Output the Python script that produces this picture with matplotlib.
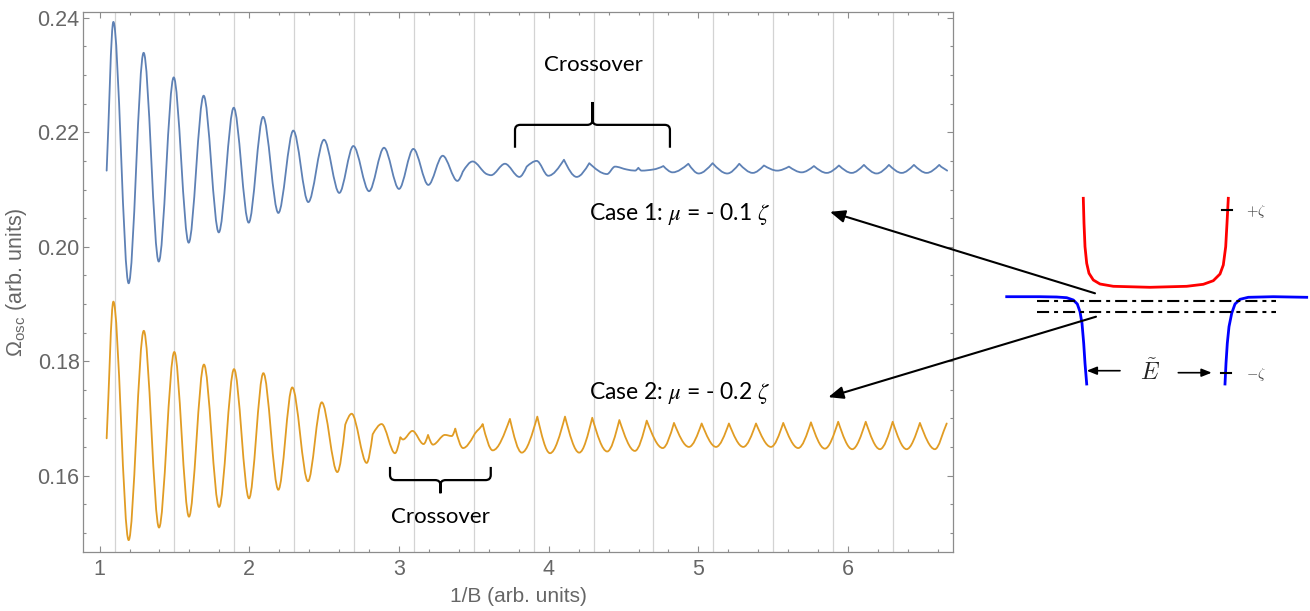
import numpy as np
import matplotlib
matplotlib.use("Agg")
import matplotlib.pyplot as plt
from matplotlib.path import Path
from matplotlib.patches import PathPatch

# ---------------- data ----------------
# Case 1 (mu = -0.1 zeta): extrema / kinks of the oscillating curve
blue_x = [1.047, 1.092, 1.194, 1.294, 1.395, 1.495, 1.595, 1.695, 1.796, 1.896,
          1.996, 2.092, 2.194, 2.294, 2.394, 2.499, 2.601, 2.695, 2.800, 2.900,
          3.000, 3.096, 3.196, 3.292, 3.390, 3.426, 3.492, 3.586, 3.615, 3.708,
          3.804, 3.853, 3.920, 3.997, 4.102, 4.187, 4.271, 4.390, 4.443, 4.521,
          4.577, 4.599, 4.621, 4.699, 4.766, 4.828, 4.933, 5.002, 5.095, 5.193,
          5.273, 5.363, 5.438, 5.527, 5.605, 5.690, 5.772, 5.857, 5.939, 6.024,
          6.106, 6.191, 6.273, 6.358, 6.440, 6.525, 6.609, 6.662]
blue_y = [0.2133, 0.2393, 0.1936, 0.2339, 0.1974, 0.2296, 0.2007, 0.2264, 0.2025, 0.2243,
          0.2042, 0.2227, 0.2059, 0.2203, 0.2078, 0.2187, 0.2094, 0.2176, 0.2097, 0.2173,
          0.2101, 0.2171, 0.2108, 0.2159, 0.2115, 0.2131, 0.2149, 0.2127, 0.2125, 0.2145,
          0.2122, 0.2140, 0.2150, 0.2124, 0.2152, 0.2122, 0.2146, 0.2127, 0.2140, 0.2135,
          0.2133, 0.2138, 0.2133, 0.2135, 0.2141, 0.2130, 0.2145, 0.2128, 0.2146, 0.2128,
          0.2145, 0.2129, 0.2142, 0.2133, 0.2140, 0.2130, 0.2141, 0.2129, 0.2142, 0.2129,
          0.2143, 0.2128, 0.2143, 0.2129, 0.2143, 0.2129, 0.2143, 0.2133]
blue_sharp = [0, 0, 0, 0, 0, 0, 0, 0, 0, 0,
              0, 0, 0, 0, 0, 0, 0, 0, 0, 0,
              0, 0, 0, 0, 0, 1, 0, 0, 0, 0,
              0, 1, 0, 0, 1, 0, 1, 0, 0, 0,
              0, 1, 0, 0, 1, 0, 1, 0, 1, 0,
              1, 0, 1, 0, 1, 0, 1, 0, 1, 0,
              1, 0, 1, 0, 1, 0, 1, 0]

# Case 2 (mu = -0.2 zeta)
orange_x = [1.047, 1.092, 1.194, 1.295, 1.397, 1.499, 1.597, 1.697, 1.798, 1.898,
            1.998, 2.094, 2.194, 2.287, 2.392, 2.484, 2.588, 2.641, 2.684, 2.784,
            2.824, 2.884, 2.973, 3.009, 3.027, 3.090, 3.164, 3.194, 3.227, 3.307,
            3.352, 3.376, 3.428, 3.500, 3.559, 3.626, 3.741, 3.820, 3.924, 4.009,
            4.109, 4.204, 4.291, 4.391, 4.472, 4.576, 4.655, 4.762, 4.837, 4.937,
            5.022, 5.118, 5.204, 5.300, 5.385, 5.485, 5.567, 5.667, 5.752, 5.845,
            5.934, 6.028, 6.118, 6.213, 6.298, 6.391, 6.480, 6.580, 6.659]
orange_y = [0.1665, 0.1904, 0.1487, 0.1853, 0.1509, 0.1816, 0.1528, 0.1794, 0.1545, 0.1786,
            0.1560, 0.1779, 0.1575, 0.1754, 0.1590, 0.1728, 0.1606, 0.1689, 0.1708, 0.1622,
            0.1672, 0.1690, 0.1639, 0.1667, 0.1663, 0.1678, 0.1655, 0.1671, 0.1654, 0.1671,
            0.1669, 0.1682, 0.1648, 0.1670, 0.1690, 0.1644, 0.1699, 0.1640, 0.1703, 0.1639,
            0.1703, 0.1640, 0.1701, 0.1642, 0.1697, 0.1643, 0.1696, 0.1648, 0.1692, 0.1650,
            0.1691, 0.1650, 0.1691, 0.1650, 0.1691, 0.1650, 0.1692, 0.1648, 0.1693, 0.1647,
            0.1694, 0.1646, 0.1694, 0.1646, 0.1694, 0.1646, 0.1692, 0.1646, 0.1691]
orange_sharp = [0, 0, 0, 0, 0, 0, 0, 0, 0, 0,
                0, 0, 0, 0, 0, 0, 0, 1, 0, 0,
                1, 0, 0, 1, 0, 0, 0, 1, 0, 0,
                0, 1, 0, 1, 1, 0, 1, 0, 1, 0,
                1, 0, 1, 0, 1, 0, 1, 0, 1, 0,
                1, 0, 1, 0, 1, 0, 1, 0, 1, 0,
                1, 0, 1, 0, 1, 0, 1, 0, 0]

grid_x = [1.1, 1.5, 1.9, 2.3, 2.7, 3.1, 3.5, 3.9, 4.3, 4.7, 5.1, 5.5, 5.9, 6.3]
x_ticks = [1, 2, 3, 4, 5, 6]
x_tick_labels = ["1", "2", "3", "4", "5", "6"]
y_ticks = [0.16, 0.18, 0.20, 0.22, 0.24]
y_tick_labels = ["0.16", "0.18", "0.20", "0.22", "0.24"]

x_label = "1/B (arb. units)"
y_label = r"$\mathregular{\Omega_{osc}}$ (arb. units)"
crossover_text = "Crossover"
case1_text = r"Case 1: $\mu$ = - 0.1 $\zeta$"
case2_text = r"Case 2: $\mu$ = - 0.2 $\zeta$"

# crossover braces: (x_left, x_right, y_ends, y_bar, y_tip)
brace1 = (3.775, 4.810, 0.2173, 0.2213, 0.2253)
brace2 = (2.940, 3.613, 0.1615, 0.1592, 0.1569)

# schematic (band diagram) in its own pixel-like coordinates
red_x = [1083.3, 1084.0, 1085.0, 1086.7, 1089.0, 1093.3, 1100.0, 1113.3, 1150.0,
         1186.7, 1203.3, 1213.3, 1220.0, 1223.3, 1225.7, 1227.0, 1228.3]
red_y = [198.3, 223.3, 246.7, 263.3, 273.3, 280.0, 284.0, 286.3, 287.3,
         286.3, 284.3, 280.7, 274.0, 265.0, 246.7, 223.3, 198.3]
bl_x = [1006.7, 1040.0, 1056.7, 1066.7, 1073.3, 1077.3, 1080.0, 1082.0, 1083.7, 1085.0, 1086.7]
bl_y = [296.7, 296.7, 297.0, 297.7, 300.0, 304.0, 311.7, 323.3, 343.3, 363.3, 384.0]
br_x = [1225.0, 1226.0, 1227.3, 1229.0, 1231.7, 1235.0, 1240.0, 1248.3, 1273.3, 1306.7]
br_y = [384.0, 363.3, 343.3, 326.7, 313.3, 304.0, 299.3, 297.3, 296.7, 297.3]
level_x = [1036.7, 1276.0]
level1_y = [300.7, 300.7]
level2_y = [311.7, 311.7]

# ---------------- drawing ----------------
def curve_path(xs, ys, sharp, c=1.5):
    xs = np.asarray(xs, float)
    ys = np.asarray(ys, float)
    n = len(xs)
    sec = np.diff(ys) / np.diff(xs)
    m_in = np.zeros(n)
    m_out = np.zeros(n)
    for i in range(n):
        if i == 0:
            m_in[i] = m_out[i] = sec[0]
        elif i == n - 1:
            m_in[i] = m_out[i] = sec[-1]
        elif sharp[i]:
            m_in[i] = c * sec[i - 1]
            m_out[i] = c * sec[i]
        else:
            a, b = sec[i - 1], sec[i]
            m = 0.0 if a * b <= 0 else 2 * a * b / (a + b)
            m_in[i] = m_out[i] = m
    verts = [(xs[0], ys[0])]
    codes = [Path.MOVETO]
    for i in range(n - 1):
        dx = xs[i + 1] - xs[i]
        verts += [(xs[i] + dx / 3, ys[i] + m_out[i] * dx / 3),
                  (xs[i + 1] - dx / 3, ys[i + 1] - m_in[i + 1] * dx / 3),
                  (xs[i + 1], ys[i + 1])]
        codes += [Path.CURVE4] * 3
    return Path(verts, codes)


def brace_path(xl, xr, ye, yb, yt, rx, ry):
    xc = 0.5 * (xl + xr)
    s = 1 if yt > yb else -1
    verts, codes = [], []
    for x_end, sx in ((xl, 1), (xr, -1)):
        verts += [(x_end, ye), (x_end, yb - s * ry), (x_end, yb), (x_end + sx * rx, yb),
                  (xc - sx * rx, yb), (xc, yb), (xc, yb + s * ry), (xc, yt)]
        codes += [Path.MOVETO, Path.LINETO, Path.CURVE3, Path.CURVE3,
                  Path.LINETO, Path.CURVE3, Path.CURVE3, Path.LINETO]
    return Path(verts, codes)


W, H = 1310, 611
fig = plt.figure(figsize=(W / 100, H / 100), dpi=100)

# schematic overlay axes (behind)
ax2 = fig.add_axes([0, 0, 1, 1], zorder=0)
ax2.set_xlim(0, W)
ax2.set_ylim(H, 0)
ax2.axis("off")

ax = fig.add_axes([83 / W, 1 - 552 / H, 870 / W, 540 / H], zorder=1)
ax.patch.set_alpha(0)

BLUE = "#5e81b5"
ORANGE = "#e19c24"
GRID = "#d3d3d3"
FRAME = "#8c8c8c"
LABEL = "#666666"

for gx in grid_x:
    ax.axvline(gx, color=GRID, lw=0.9, zorder=1)

ax.add_patch(PathPatch(curve_path(blue_x, blue_y, blue_sharp), facecolor="none",
                       edgecolor=BLUE, lw=1.3, zorder=3, capstyle="round", joinstyle="round"))
ax.add_patch(PathPatch(curve_path(orange_x, orange_y, orange_sharp), facecolor="none",
                       edgecolor=ORANGE, lw=1.3, zorder=3, capstyle="round", joinstyle="round"))

ax.set_xticks(x_ticks)
ax.set_xticklabels(x_tick_labels)
ax.set_xticks(np.arange(0.2, 7.0, 0.2), minor=True)
ax.set_yticks(y_ticks)
ax.set_yticklabels(y_tick_labels)
ax.set_yticks(np.arange(0.145, 0.2425, 0.005), minor=True)
ax.set_xlim(0.889, 6.701)
ax.set_ylim(0.14663, 0.24103)

for s in ax.spines.values():
    s.set_color(FRAME)
    s.set_linewidth(0.9)
ax.tick_params(which="both", direction="in", top=True, right=True, color=FRAME,
               labelcolor=LABEL, width=0.8)
ax.tick_params(which="major", length=4.0, labelsize=15.5)
ax.tick_params(which="minor", length=2.3)
ax.tick_params(axis="x", pad=5)
ax.tick_params(axis="y", pad=2.5)
for lab in ax.get_xticklabels() + ax.get_yticklabels():
    lab.set_fontfamily("Liberation Sans")

ax.set_xlabel(x_label, fontsize=15, color=LABEL, family="Liberation Sans", labelpad=5)
ax.set_ylabel(y_label, fontsize=15.5, color=LABEL, family="Liberation Sans", labelpad=6)

# annotations
TFONT = "Lato"
ax.text(4.296, 0.2318, crossover_text, fontsize=16, family=TFONT, color="black",
        ha="center", va="center", zorder=5)
ax.text(3.274, 0.1528, crossover_text, fontsize=16, family=TFONT, color="black",
        ha="center", va="center", zorder=5)
for br in (brace1, brace2):
    ax.add_patch(PathPatch(brace_path(*br, rx=0.035, ry=0.0009), facecolor="none",
                           edgecolor="black", lw=1.6, zorder=5))
ax.text(4.271, 0.2058, case1_text, fontsize=16.5, family=TFONT, color="black",
        ha="left", va="center", math_fontfamily="stix", zorder=5)
ax.text(4.271, 0.1744, case2_text, fontsize=16.5, family=TFONT, color="black",
        ha="left", va="center", math_fontfamily="stix", zorder=5)

arrow_kw = dict(arrowstyle="-|>,head_length=0.6,head_width=0.25", color="black",
                lw=1.5, mutation_scale=15, shrinkA=0, shrinkB=0)
ax.annotate("", xy=(5.879, 0.2061), xycoords=ax.transData,
            xytext=(1095, 293.3), textcoords=ax2.transData,
            arrowprops=arrow_kw, annotation_clip=False, zorder=6)
ax.annotate("", xy=(5.868, 0.1737), xycoords=ax.transData,
            xytext=(1096, 316.7), textcoords=ax2.transData,
            arrowprops=arrow_kw, annotation_clip=False, zorder=6)

# schematic drawing
ax2.plot(red_x, red_y, color="#ff0000", lw=2.0, solid_joinstyle="round")
ax2.plot(bl_x, bl_y, color="#0000ff", lw=2.0, solid_joinstyle="round")
ax2.plot(br_x, br_y, color="#0000ff", lw=2.0, solid_joinstyle="round")
ax2.plot(level_x, level1_y, color="black", lw=1.5, linestyle=(0, (5.8, 2.4, 1.9, 2.4)))
ax2.plot(level_x, level2_y, color="black", lw=1.5, linestyle=(0, (5.8, 2.4, 1.9, 2.4)))
ax2.plot([1222, 1232], [210.0, 210.0], color="black", lw=1.5)
ax2.plot([1221, 1231], [373.3, 373.3], color="black", lw=1.5)
ax2.text(1246, 211.7, r"$+\zeta$", fontsize=10.5, color="#444444", ha="left", va="center",
         math_fontfamily="cm")
ax2.text(1246, 374.3, r"$-\zeta$", fontsize=10.5, color="#444444", ha="left", va="center",
         math_fontfamily="cm")
ax2.text(1150, 372.5, r"$\tilde{E}$", fontsize=17, color="#222222", ha="center", va="center",
         math_fontfamily="cm")
small_kw = dict(arrowstyle="-|>,head_length=0.5,head_width=0.2", color="black",
                lw=1.2, mutation_scale=12, shrinkA=0, shrinkB=0)
ax2.annotate("", xy=(1086.7, 370.7), xytext=(1120, 370.7), arrowprops=small_kw)
ax2.annotate("", xy=(1211.7, 372.7), xytext=(1178.3, 372.7), arrowprops=small_kw)

fig.savefig("out.png", dpi=100)
